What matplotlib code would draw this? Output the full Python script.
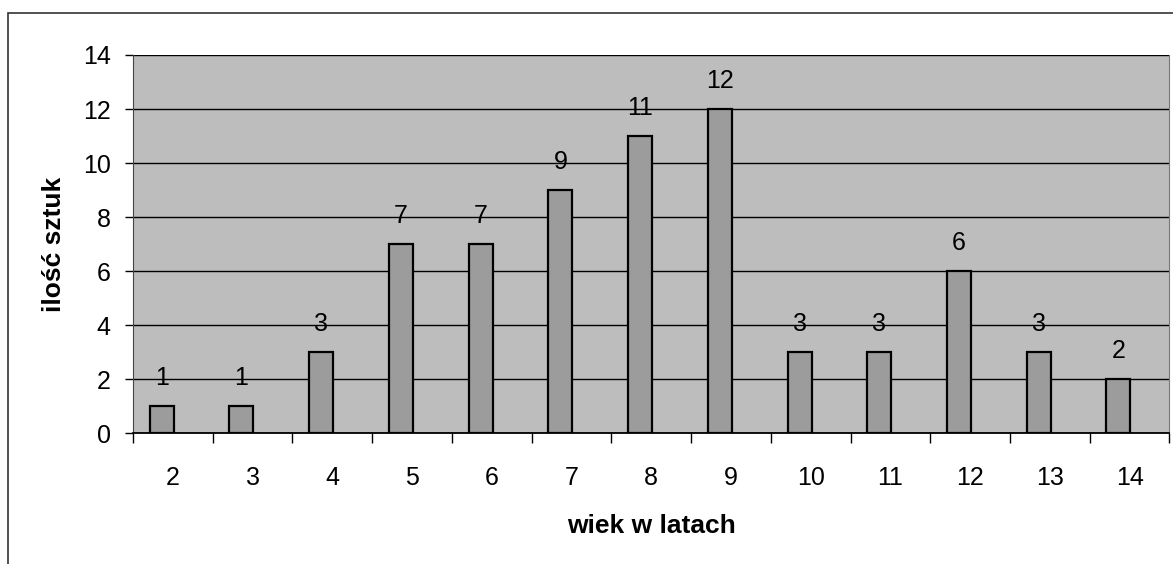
import matplotlib
matplotlib.use("Agg")
import matplotlib.pyplot as plt
import numpy as np

# data
ages = [2, 3, 4, 5, 6, 7, 8, 9, 10, 11, 12, 13, 14]
counts = [1, 1, 3, 7, 7, 9, 11, 12, 3, 3, 6, 3, 2]
x_label = "wiek w latach"
y_label = "ilość sztuk"

plt.rcParams["font.family"] = ["Liberation Sans", "DejaVu Sans"]

fig = plt.figure(figsize=(11.73, 5.64), dpi=100)
ax = fig.add_axes([0.1134, 0.232, 0.8836, 0.6705])

# figure border
fig.patches.append(plt.Rectangle((0.007, -0.01), 0.995, 0.987, transform=fig.transFigure,
                                 fill=False, edgecolor="#333333", lw=1.2))

ax.set_facecolor("#bdbdbd")
pos = np.arange(len(ages))
ax.bar(pos - 0.14, counts, width=0.3, color="#9c9c9c", edgecolor="black", lw=1.6, zorder=3)
for p, c in zip(pos, counts):
    ax.text(p - 0.14, c + 0.6, str(c), ha="center", va="bottom", fontsize=18, zorder=4)

ax.set_ylim(0, 14)
ax.set_yticks(range(0, 15, 2))
ax.yaxis.grid(True, color="black", lw=1)
ax.set_axisbelow(True)
ax.set_xlim(-0.5, len(ages) - 0.5)
ax.set_xticks(np.arange(-0.5, len(ages), 1))
ax.set_xticklabels([])
ax.set_xticks(pos, minor=True)
ax.set_xticklabels([str(a) for a in ages], minor=True)
ax.tick_params(axis="x", which="major", length=7, width=1)
ax.tick_params(axis="x", which="minor", length=0, pad=24, labelsize=18)
ax.tick_params(axis="y", length=6, width=1, labelsize=18, pad=10)
ax.spines["top"].set_visible(False)
ax.spines["right"].set_color("#777777")
ax.spines["left"].set_color("#444444")
ax.spines["bottom"].set_lw(1.3)

ax.set_xlabel(x_label, fontsize=19, fontweight="bold", labelpad=17)
ax.set_ylabel(y_label, fontsize=19, fontweight="bold", labelpad=12)

fig.savefig("out.png", dpi=100)
